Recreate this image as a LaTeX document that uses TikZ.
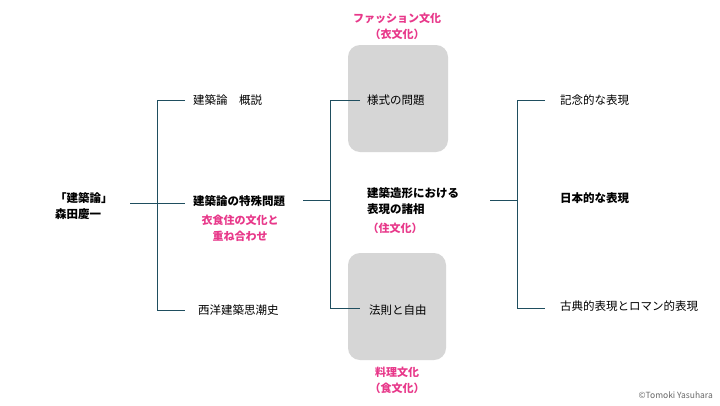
\documentclass[tikz,border=0pt]{standalone}
\usepackage{fontspec}
\setmainfont{Noto Sans CJK JP}
\begin{document}
\begin{tikzpicture}[x=1pt,y=-1pt,
  t/.style={font=\fontsize{11.5}{13}\selectfont,anchor=west,inner sep=0},
  tb/.style={t,font=\fontsize{11.5}{16}\selectfont\bfseries,align=left},
  pk/.style={font=\fontsize{11}{16}\selectfont\bfseries,text=pinkc,align=center,inner sep=0},
  box/.style={fill=black!16,rounded corners=12pt,draw=none}]
\definecolor{pinkc}{HTML}{E8388A}
\definecolor{lc}{HTML}{1F4E5F}
\tikzset{ln/.style={draw=lc,line width=0.7pt}}
\useasboundingbox (0,0) rectangle (720,405);
\fill[white] (0,0) rectangle (720,405);
\path[box] (348,45) rectangle (448,152);
\path[box] (348,253) rectangle (446,360);
\node[tb] (root) at (55,206) {「建築論」\\森田慶一};
\node[t] (a1) at (193,100) {建築論　概説};
\node[tb] (a2) at (193,201) {建築論の特殊問題};
\node[pk] (a2p) at (240,228) {衣食住の文化と\\重ね合わせ};
\node[t] (a3) at (198,310) {西洋建築思潮史};
\node[t] (b1) at (367,100) {様式の問題};
\node[tb] (b2) at (367,201) {建築造形における\\表現の諸相};
\node[pk] (b2p) at (395,228) {（住文化）};
\node[t] (b3) at (369,310) {法則と自由};
\node[pk] (top) at (397,26) {ファッション文化\\（衣文化）};
\node[pk] (bot) at (397,380) {料理文化\\（食文化）};
\node[t] (c1) at (560,100) {記念的な表現};
\node[tb] (c2) at (560,198) {日本的な表現};
\node[t] (c3) at (560,306) {古典的表現とロマン的表現};
\node[anchor=east,inner sep=0,font=\fontsize{8.5}{10}\selectfont,text=black!60] (cr) at (713,395) {©Tomoki Yasuhara};
\coordinate (j1) at (157,203);
\draw[ln] (130,203) -- (j1);
\draw[ln] (185,100) -- (157,100) -- (157,310) -- (185,310);
\draw[ln] (j1) -- (185,203);
\draw[ln] (303,200) -- (330,200);
\draw[ln] (360,100) -- (330,100) -- (330,308) -- (360,308);
\draw[ln] (490,200) -- (517,200);
\draw[ln] (545,100) -- (517,100) -- (517,308) -- (545,308);
\end{tikzpicture}
\end{document}
